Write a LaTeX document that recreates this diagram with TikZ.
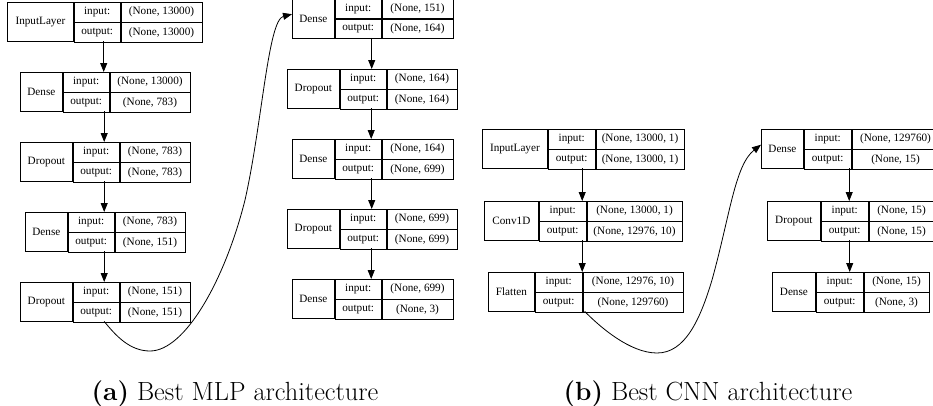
\documentclass[tikz,border=0pt]{standalone}
\usepackage{fontspec}
\newfontfamily\recfont{Liberation Serif}
\usetikzlibrary{arrows.meta}

% one layer record: name, left, top, column widths, layer kind, input shape, output shape
\newcommand\layer[9]{%
  \node[rec, minimum width=#4+#5+#6] (#1) at (#2,#3) {};
  \node[cell, minimum width=#4, minimum height=39] (#1k) at (#1.north west) {#7};
  \node[cell, minimum width=#5] (#1pi) at (#1k.north east) {input:};
  \node[cell, minimum width=#5] (#1po) at (#1pi.south west) {output:};
  \node[cell, minimum width=#6] (#1vi) at (#1pi.north east) {#8};
  \node[cell, minimum width=#6] (#1vo) at (#1vi.south west) {#9};}

\begin{document}
\begin{tikzpicture}[x=1pt,y=-1pt,
  rec/.style={anchor=north west,inner sep=0,minimum height=39},
  cell/.style={draw,anchor=north west,inner sep=0,minimum height=19.5,line width=0.8pt,
    font=\recfont\fontsize{11.2}{13}\selectfont},
  edge/.style={-{Triangle[length=9pt,width=7pt]},line width=0.8pt},
  caption/.style={anchor=base,inner sep=0,font=\fontsize{26.3}{31}\selectfont}]
\useasboundingbox (0,0) rectangle (933,405);
% MLP
\layer{in1}{7}{2}{66}{46}{81}{InputLayer}{(None, 13000)}{(None, 13000)}
\layer{d1}{20}{72}{42}{46}{80}{Dense}{(None, 13000)}{(None, 783)}
\layer{dr1}{20}{142}{52}{46}{70}{Dropout}{(None, 783)}{(None, 783)}
\layer{d2}{25}{212}{42}{46}{70}{Dense}{(None, 783)}{(None, 151)}
\layer{dr2}{20}{282}{52}{46}{70}{Dropout}{(None, 151)}{(None, 151)}
\layer{d3}{292}{-1.5}{42}{46}{71}{Dense}{(None, 151)}{(None, 164)}
\layer{dr3}{287}{69}{52}{46}{70}{Dropout}{(None, 164)}{(None, 164)}
\layer{d4}{292}{139}{42}{46}{71}{Dense}{(None, 164)}{(None, 699)}
\layer{dr4}{287}{209}{52}{46}{70}{Dropout}{(None, 699)}{(None, 699)}
\layer{d5}{292}{279}{42}{46}{71}{Dense}{(None, 699)}{(None, 3)}
% CNN
\layer{cin}{482}{129}{65}{47}{88}{InputLayer}{(None, 13000, 1)}{(None, 13000, 1)}
\layer{cconv}{484}{201}{54}{47}{95}{Conv1D}{(None, 13000, 1)}{(None, 12976, 10)}
\layer{cfl}{488}{272}{46}{47}{100}{Flatten}{(None, 12976, 10)}{(None, 129760)}
\layer{cd1}{761}{129}{42}{47}{87}{Dense}{(None, 129760)}{(None, 15)}
\layer{cdr}{767}{201}{53}{47}{65}{Dropout}{(None, 15)}{(None, 15)}
\layer{cd2}{772}{272}{43}{47}{65}{Dense}{(None, 15)}{(None, 3)}
\foreach \a/\b in {in1/d1,d1/dr1,dr1/d2,d2/dr2,d3/dr3,dr3/d4,d4/dr4,dr4/d5,cin/cconv,cconv/cfl,cd1/cdr,cdr/cd2}
  \draw[edge] (\a.south) -- (\a.south |- \b.north);
\draw[edge] (dr2.south) .. controls (116,336) and (130,351) .. (150,351)
  .. controls (185,351) and (225,280) .. (245,200)
  .. controls (262,125) and (268,20) .. ([yshift=4pt]d3.west);
\draw[edge] (cfl.south) .. controls (600,327) and (630,353) .. (657,353)
  .. controls (685,353) and (700,320) .. (712,280)
  .. controls (730,215) and (735,165) .. ([yshift=4pt]cd1.west);
\node[caption] (capa) at (235,400) {\textbf{(a)} Best MLP architecture};
\node[caption] (capb) at (708,400) {\textbf{(b)} Best CNN architecture};
\end{tikzpicture}
\end{document}
